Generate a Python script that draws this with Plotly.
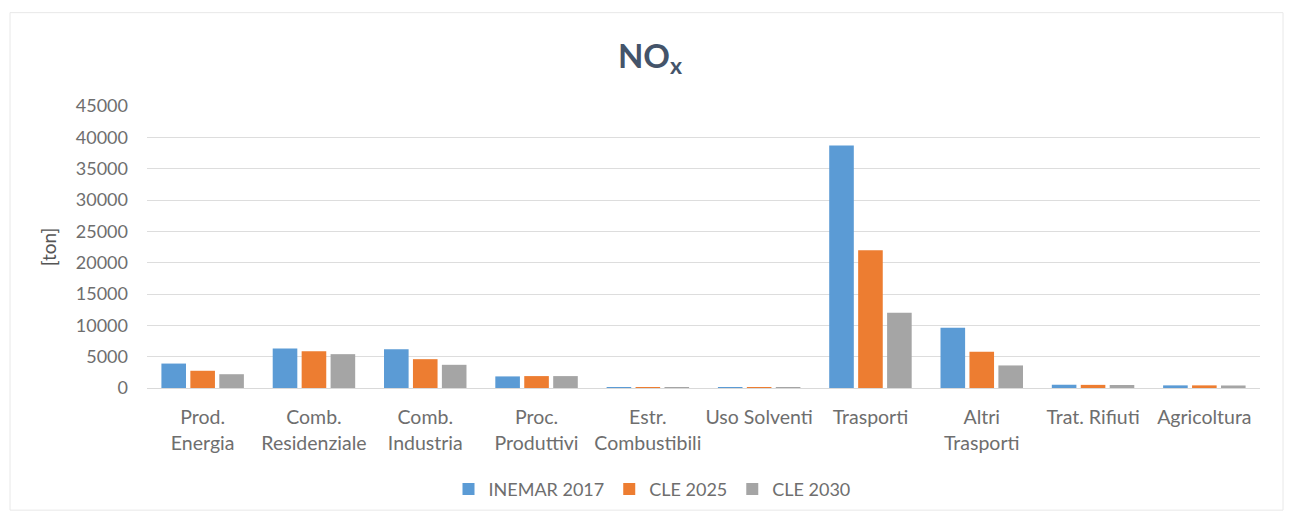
import plotly.graph_objects as go

categories = ["Prod.<br>Energia", "Comb.<br>Residenziale", "Comb.<br>Industria", "Proc.<br>Produttivi",
              "Estr.<br>Combustibili", "Uso Solventi", "Trasporti", "Altri<br>Trasporti",
              "Trat. Rifiuti", "Agricoltura"]
inemar_2017 = [3900, 6300, 6200, 1850, 30, 20, 38700, 9600, 520, 420]
cle_2025 = [2750, 5850, 4600, 1900, 30, 20, 22000, 5800, 500, 420]
cle_2030 = [2200, 5400, 3700, 1900, 30, 20, 12000, 3600, 480, 400]
series_names = ["INEMAR 2017", "CLE 2025", "CLE 2030"]
colors = ["#5B9BD5", "#ED7D31", "#A5A5A5"]
y_ticks = [0, 5000, 10000, 15000, 20000, 25000, 30000, 35000, 40000, 45000]

FONT = "Lato, 'Open Sans', sans-serif"
TXT = "#6E6E6E"

fig = go.Figure()
for name, vals, c in zip(series_names, [inemar_2017, cle_2025, cle_2030], colors):
    fig.add_trace(go.Bar(x=categories, y=vals, name=name, marker=dict(color=c, line=dict(width=0))))

L, R, T, B = 147, 31, 106, 130
W, H = 1291, 520
pw, ph = W - L - R, H - T - B

def px2x(px):
    return (px - L) / pw

def py2y(py):
    return (H - B - py) / ph

fig.update_layout(
    width=W, height=H,
    margin=dict(l=L, r=R, t=T, b=B),
    paper_bgcolor="white", plot_bgcolor="white",
    barmode="group", bargap=0.22, bargroupgap=0.15,
    font=dict(family=FONT, color=TXT, size=18),
    title=dict(text="<b>NO<sub>x</sub></b>", x=650 / W, xref="container", xanchor="center",
               y=1 - 56 / H, yanchor="middle",
               font=dict(family=FONT, size=33, color="#44546A")),
    legend=dict(orientation="h", x=px2x(652), xanchor="center", y=py2y(492), yanchor="middle",
                font=dict(size=18, color=TXT), itemwidth=30, traceorder="normal"),
    shapes=[dict(type="rect", xref="paper", yref="paper",
                 x0=px2x(10), x1=px2x(1283), y0=py2y(513), y1=py2y(12),
                 line=dict(color="#E8E8E8", width=1), fillcolor="rgba(0,0,0,0)", layer="below")],
)
fig.update_yaxes(range=[0, 45000], tickvals=y_ticks, ticktext=[str(v) for v in y_ticks],
                 showgrid=True, gridcolor="#DDDDDD", gridwidth=1, zeroline=False,
                 showline=False, ticks="", ticklabelstandoff=18,
                 title=dict(text="[ton]", font=dict(size=19, color="#555555"), standoff=14),
                 tickfont=dict(size=18, color=TXT))
fig.update_xaxes(showgrid=False, showline=True, linecolor="#D9D9D9", linewidth=1, ticks="",
                 tickfont=dict(size=19.5, color=TXT), ticklabelstandoff=12)

fig.write_html("out.html", config={"displayModeBar": False},
               post_script="document.body.style.margin='0';document.body.style.padding='0';")
